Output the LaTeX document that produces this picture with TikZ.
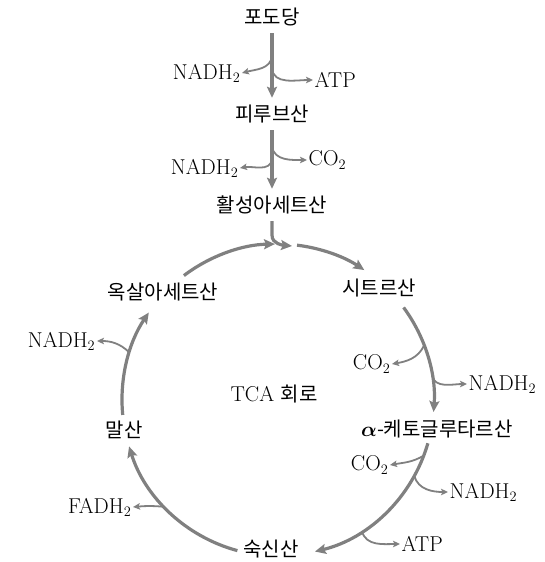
\documentclass[tikz,border=0pt]{standalone}
\usepackage{fontspec}
\usepackage{amsmath}
\newfontfamily\kor{Noto Sans CJK KR}
\usetikzlibrary{arrows.meta,calc}

\definecolor{arrgray}{RGB}{128,128,128}

\tikzset{
  cyc/.style={draw=arrgray,line width=3.2pt,-{Stealth[length=11pt,width=10pt,inset=2pt]}},
  side/.style={draw=arrgray,line width=1.8pt,-{Stealth[length=7pt,width=6.5pt,inset=1.5pt]}},
  kname/.style={font=\kor\fontsize{20}{24}\selectfont,inner sep=0pt,minimum height=32pt},
  prod/.style={font=\fontsize{21.5}{26}\selectfont,inner sep=1.5pt},
}

\begin{document}
\begin{tikzpicture}[x=1pt,y=1pt]

	\useasboundingbox (0,0) rectangle (545,-562);

	% glycolysis part
	\node (glucose) at (272,-17) [kname] {포도당};
	\node (pyruvate) at (272,-114) [kname] {피루브산};
	\node (acetyl) at (272,-205) [kname] {활성아세트산};

	\node (nadhA) at (242,-73) [prod,anchor=east] {NADH$_2$};
	\node (atpA) at (313,-80) [prod,anchor=west] {ATP};
	\node (co2A) at (307,-160) [prod,anchor=west] {CO$_2$};
	\node (nadhB) at (240,-168) [prod,anchor=east] {NADH$_2$};

	\draw[cyc] (glucose) -- (pyruvate);
	\draw[cyc] (pyruvate) -- (acetyl);

	\coordinate (gp1) at ($(glucose)!0.4!(pyruvate)$);
	\coordinate (gp2) at ($(glucose)!0.53!(pyruvate)$);
	\draw[side] (gp1) to[out=-95,in=15] (nadhA.east);
	\draw[side] (gp2) to[out=-85,in=180] (atpA.west);

	\coordinate (pa1) at ($(pyruvate)!0.36!(acetyl)$);
	\coordinate (pa2) at ($(pyruvate)!0.5!(acetyl)$);
	\draw[side] (pa1) to[out=-80,in=180] (co2A.west);
	\draw[side] (pa2) to[out=-100,in=10] (nadhB.east);

	% TCA cycle
	\coordinate (ctr) at (278,-400);
	\coordinate (entry) at (292,-246);

	\node (tca) at (274,-394) [prod] {TCA {\kor\fontsize{20}{24}\selectfont 회로}};
	\node (oaa) at (163,-292) [kname] {옥살아세트산};
	\node (citrate) at (379,-288) [kname] {시트르산};
	\node (akg) at (437,-429) [kname] {{\boldmath$\alpha$}-케토글루타르산};
	\node (succinate) at (271,-549) [kname] {숙신산};
	\node (malate) at (124,-430) [kname] {말산};

	\draw[cyc] (acetyl.south) -- ++(0,-14) to[out=-90,in=175] (entry);

	\draw[cyc] ([shift={(127.1:156)}]ctr) arc[start angle=127.1,end angle=91.1,radius=156];
	\draw[cyc] ([shift={(83:156)}]ctr) arc[start angle=83,end angle=56.4,radius=156];
	\draw[cyc] ([shift={(36.4:156)}]ctr) arc[start angle=36.4,end angle=-4.4,radius=156];
	\draw[cyc] ([shift={(-16.1:156)}]ctr) arc[start angle=-16.1,end angle=-76.3,radius=156];
	\draw[cyc] ([shift={(-105.1:156)}]ctr) arc[start angle=-105.1,end angle=-162.7,radius=156];
	\draw[cyc] ([shift={(-174.5:156)}]ctr) arc[start angle=-174.5,end angle=-214.1,radius=156];

	\node (co2B) at (392,-364) [prod,anchor=east] {CO$_2$};
	\node (nadhC) at (467,-384) [prod,anchor=west] {NADH$_2$};
	\node (co2C) at (390,-465) [prod,anchor=east] {CO$_2$};
	\node (nadhD) at (448,-492) [prod,anchor=west] {NADH$_2$};
	\node (atpB) at (400,-544) [prod,anchor=west] {ATP};
	\node (fadh) at (133,-507) [prod,anchor=east] {FADH$_2$};
	\node (nadhE) at (97,-341) [prod,anchor=east] {NADH$_2$};

	\draw[side] ([shift={(20.5:156)}]ctr) to[out=-115,in=10] (co2B.east);
	\draw[side] ([shift={(9.2:156)}]ctr) to[out=-80,in=180] (nadhC.west);
	\draw[side] ([shift={(-20.9:156)}]ctr) to[out=-150,in=10] (co2C.east);
	\draw[side] ([shift={(-29.1:156)}]ctr) to[out=-75,in=180] (nadhD.west);
	\draw[side] ([shift={(-57.4:156)}]ctr) to[out=-75,in=180] (atpB.west);
	\draw[side] ([shift={(223.2:156)}]ctr) to[out=175,in=5] (fadh.east);
	\draw[side] ([shift={(162.3:156)}]ctr) to[out=135,in=0] (nadhE.east);

\end{tikzpicture}
\end{document}
